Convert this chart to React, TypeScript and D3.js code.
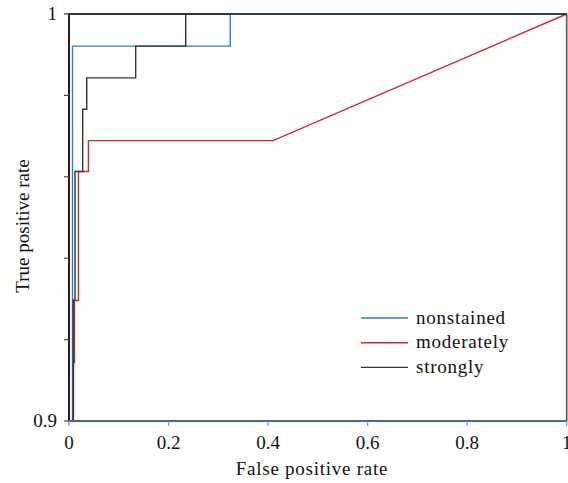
import React from "react";
import * as d3 from "d3";

// ROC curves, points as [false positive rate, true positive rate]
const nonstained: [number, number][] = [
  [0.007, 0.9], [0.007, 0.9921], [0.324, 0.9921], [0.324, 1], [1, 1],
];
const moderately: [number, number][] = [
  [0.009, 0.9], [0.009, 0.9143], [0.011, 0.9143], [0.011, 0.9296],
  [0.019, 0.9296], [0.019, 0.9613], [0.039, 0.9613], [0.039, 0.9689],
  [0.41, 0.9689], [1, 1],
];
const strongly: [number, number][] = [
  [0.0086, 0.9], [0.0086, 0.9297], [0.012, 0.9297], [0.012, 0.9613],
  [0.0275, 0.9613], [0.0275, 0.9766], [0.0356, 0.9766], [0.0356, 0.9843],
  [0.134, 0.9843], [0.134, 0.9921], [0.2345, 0.9921], [0.2345, 1], [1, 1],
];

const seriesNames = ["nonstained", "moderately", "strongly"];
const seriesColors = ["#2a80c6", "#d0282e", "#333333"];
const xTicks = [0, 0.2, 0.4, 0.6, 0.8, 1];
const yTicks = [0.9, 0.92, 0.94, 0.96, 0.98, 1];
const yLabels = [0.9, 1];

const W = 568;
const H = 483;
const margin = { top: 14, right: 1.3, bottom: 62, left: 69 };
const font = '"Liberation Serif", "DejaVu Serif", serif';
const fs = 19;

export default function App() {
  const x = d3.scaleLinear().domain([0, 1]).range([margin.left, W - margin.right]);
  const y = d3.scaleLinear().domain([0.9, 1]).range([H - margin.bottom, margin.top]);
  const line = d3.line<[number, number]>().x((d) => x(d[0])).y((d) => y(d[1]));
  const series = [nonstained, moderately, strongly];
  const textStyle = { fontFamily: font, fontSize: fs, fill: "#111" };
  const wideText = { ...textStyle, letterSpacing: 0.75 };

  return (
    <svg
      width={W}
      height={H}
      style={{ position: "absolute", left: 0, top: 0, background: "#fff" }}
    >
      <defs>
        <clipPath id="plot">
          <rect x={x(0)} y={y(1) - 1} width={x(1) - x(0)} height={y(0.9) - y(1) + 2} />
        </clipPath>
      </defs>

      {/* frame */}
      <line x1={x(0)} x2={x(1)} y1={y(1)} y2={y(1)} stroke="#333" strokeWidth={2} />
      <line x1={x(1)} x2={x(1)} y1={y(1)} y2={y(0.9)} stroke="#555" strokeWidth={1.6} />

      {/* curves */}
      <g clipPath="url(#plot)">
        {series.map((s, i) => (
          <path key={i} d={line(s) ?? ""} fill="none" stroke={seriesColors[i]} strokeWidth={1.4} />
        ))}
      </g>

      {/* y axis */}
      <line x1={x(0)} x2={x(0)} y1={y(1) - 1} y2={y(0.9) + 1} stroke="#222" strokeWidth={2} />
      {yTicks.map((t) => (
        <line key={t} x1={x(0) - 5} x2={x(0)} y1={y(t)} y2={y(t)} stroke="#444" strokeWidth={1.2} />
      ))}
      {yLabels.map((t) => (
        <text key={t} x={x(0) - 12} y={y(t) + 6} textAnchor="end" style={textStyle}>
          {t === 1 ? "1" : d3.format(".1f")(t)}
        </text>
      ))}

      {/* x axis */}
      <line x1={x(0)} x2={x(1)} y1={y(0.9)} y2={y(0.9)} stroke="#4a6890" strokeWidth={2} />
      {xTicks.map((t) => (
        <line key={t} x1={x(t)} x2={x(t)} y1={y(0.9)} y2={y(0.9) + 5} stroke="#5b9bd5" strokeWidth={1.2} />
      ))}
      {xTicks.map((t) => (
        <text key={t} x={x(t)} y={449} textAnchor="middle" style={textStyle}>
          {t === 0 || t === 1 ? String(t) : d3.format(".1f")(t)}
        </text>
      ))}

      <text x={312} y={475} textAnchor="middle" style={wideText}>
        False positive rate
      </text>
      <text
        transform={`translate(29,226) rotate(-90)`}
        textAnchor="middle"
        style={textStyle}
      >
        True positive rate
      </text>

      {/* legend */}
      {seriesNames.map((name, i) => (
        <g key={name} transform={`translate(361,${318 + i * 24.7})`}>
          <line x1={0} x2={47} y1={0} y2={0} stroke={seriesColors[i]} strokeWidth={1.4} />
          <text x={55} y={5.5} style={wideText}>
            {name}
          </text>
        </g>
      ))}
    </svg>
  );
}
